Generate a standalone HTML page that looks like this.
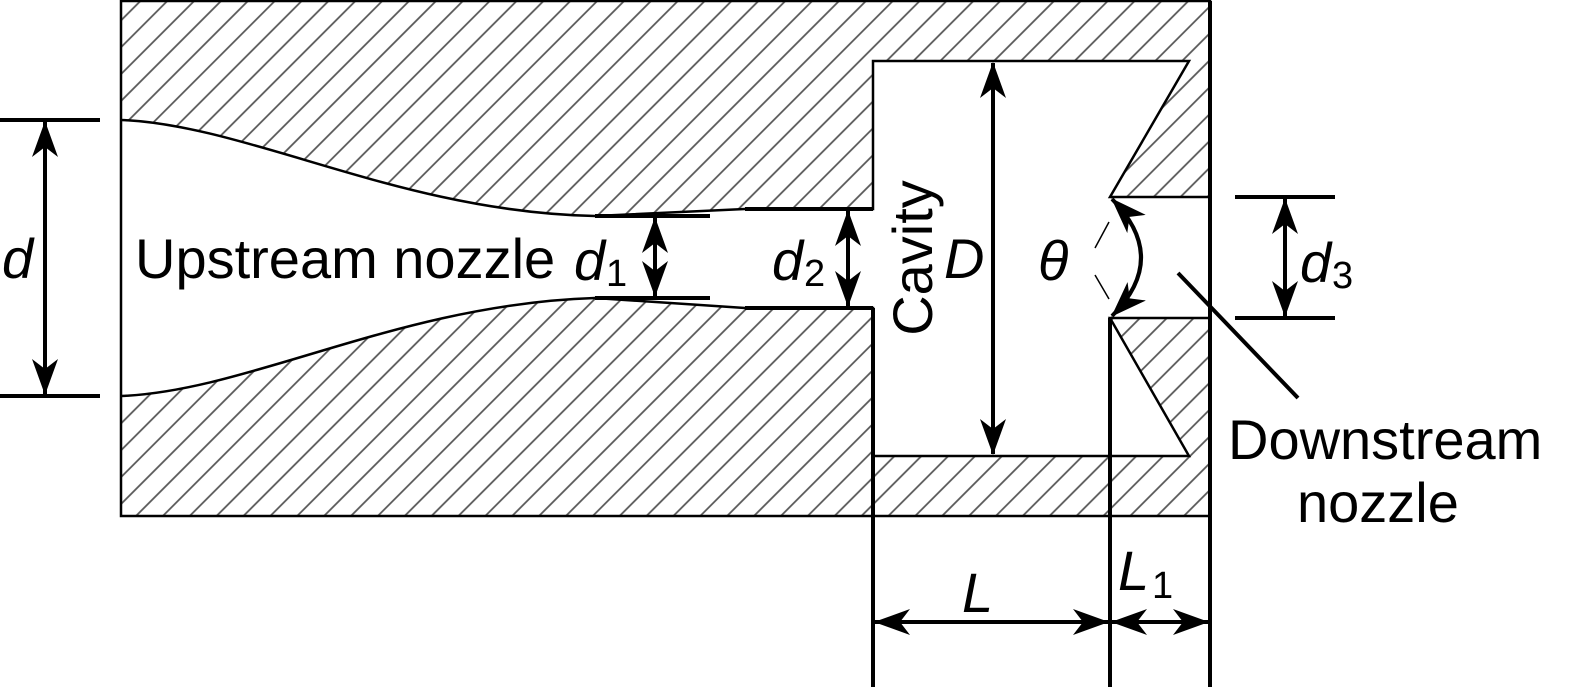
<!DOCTYPE html>
<html><head><meta charset="utf-8"><style>
html,body{margin:0;padding:0;background:#fff}
svg{display:block}
text{font-family:"Liberation Sans",Arial,sans-serif;fill:#000}
</style></head><body>
<svg width="1584" height="687" viewBox="0 0 1584 687" xmlns="http://www.w3.org/2000/svg">
<defs>
<pattern id="h" patternUnits="userSpaceOnUse" width="19" height="19" patternTransform="rotate(-45)">
<line x1="-5" y1="5" x2="25" y2="5" stroke="#555" stroke-width="1.8"/>
</pattern>
<marker id="a" viewBox="0 0 36 26" refX="35" refY="13" markerWidth="36" markerHeight="26" markerUnits="userSpaceOnUse" orient="auto-start-reverse">
<path d="M0,0 L36,13 L0,26 L10,13 Z" fill="#000"/>
</marker>
</defs>
<path fill="url(#h)" fill-rule="evenodd" stroke="none" d="M121,1 H1210 V516 H121 Z
M121,120 C250,125 400,212 595,216 L745,209 L873,209 L873,61 L1189,61 L1110,197 L1210,197 L1210,318 L1110,318 L1189,456 L873,456 L873,308 L745,308 L595,298 C400,304 250,391 121,396 Z"/>
<g fill="none" stroke="#000" stroke-width="2.5">
<rect x="121" y="1" width="1089" height="515"/>
<path d="M121,120 C250,125 400,212 595,216 L745,209 L873,209 L873,61 L1189,61 L1110,197 L1210,197"/>
<path d="M121,396 C250,391 400,304 595,298 L745,308 L873,308 L873,456 L1189,456 L1110,318 L1210,318"/>
</g>
<g stroke="#000" stroke-width="4" fill="none">
<line x1="595" y1="216" x2="710" y2="216"/><line x1="595" y1="298" x2="710" y2="298"/>
<line x1="745" y1="209" x2="873" y2="209"/><line x1="745" y1="308" x2="873" y2="308"/>
<line x1="0" y1="120" x2="100" y2="120"/><line x1="0" y1="396" x2="100" y2="396"/>
<line x1="1235" y1="197" x2="1335" y2="197"/><line x1="1235" y1="318" x2="1335" y2="318"/>
<line x1="873" y1="308" x2="873" y2="687"/><line x1="1110" y1="318" x2="1110" y2="687"/><line x1="1210" y1="1" x2="1210" y2="687"/>
<line x1="1178" y1="273" x2="1298" y2="398"/>
</g>
<g stroke="#000" stroke-width="4" fill="none" marker-start="url(#a)" marker-end="url(#a)">
<line x1="45" y1="122" x2="45" y2="394"/>
<line x1="655" y1="218" x2="655" y2="296"/>
<line x1="848" y1="211" x2="848" y2="306"/>
<line x1="993" y1="63" x2="993" y2="454"/>
<line x1="1285" y1="199" x2="1285" y2="316"/>
<line x1="875" y1="622" x2="1108" y2="622"/>
<line x1="1112" y1="622" x2="1208" y2="622"/>
<path d="M1112,199 Q1170,258 1112,316"/>
</g>
<g stroke="#000" stroke-width="1.5">
<line x1="1109" y1="222" x2="1095" y2="248"/><line x1="1095" y1="275" x2="1109" y2="299"/>
</g>
<g font-size="56">
<text x="2" y="278" font-style="italic">d</text>
<text x="135" y="278">Upstream nozzle</text>
<text x="574" y="280" font-style="italic">d</text><text x="606" y="286" font-size="38">1</text>
<text x="772" y="280" font-style="italic">d</text><text x="804" y="286" font-size="38">2</text>
<text x="944" y="278" font-style="italic">D</text>
<text x="1038" y="280" font-style="italic">θ</text>
<text x="1300" y="282" font-style="italic">d</text><text x="1332" y="288" font-size="38">3</text>
<text x="1228" y="459">Downstream</text>
<text x="1297" y="522">nozzle</text>
<text x="962" y="612" font-style="italic">L</text>
<text x="1118" y="590" font-style="italic">L</text><text x="1152" y="598" font-size="38">1</text>
<text transform="translate(932,258) rotate(-90)" text-anchor="middle">Cavity</text>
</g>
</svg>
</body></html>
